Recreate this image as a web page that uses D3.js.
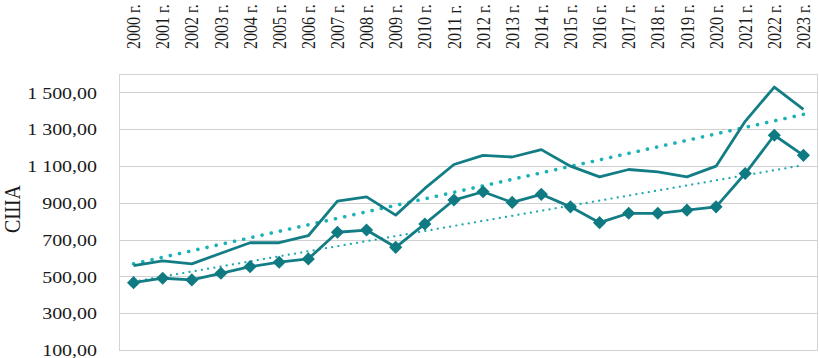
<!DOCTYPE html>
<html>
<head>
<meta charset="utf-8">
<script src="https://cdn.jsdelivr.net/npm/d3@7"></script>
<style>
  html, body { margin: 0; padding: 0; background: #fff; }
  #chart { width: 819px; height: 358px; overflow: hidden; }
  text { font-family: "Liberation Serif", "Times New Roman", serif; fill: #1a1a1a; }
</style>
</head>
<body>
<div id="chart"></div>
<script>
// годы (категории)
const years = ["2000 г.","2001 г.","2002 г.","2003 г.","2004 г.","2005 г.","2006 г.","2007 г.",
  "2008 г.","2009 г.","2010 г.","2011 г.","2012 г.","2013 г.","2014 г.","2015 г.","2016 г.",
  "2017 г.","2018 г.","2019 г.","2020 г.","2021 г.","2022 г.","2023 г."];

// ряд 1 — линия без маркеров
const seriesLine = [558, 584, 568, 626, 683, 683, 721, 909, 932, 833, 978, 1108, 1158, 1149,
  1189, 1099, 1041, 1081, 1068, 1041, 1099, 1343, 1529, 1408];

// ряд 2 — линия с ромбами
const seriesDiamond = [466, 490, 481, 517, 553, 577, 595, 740, 752, 658, 785, 915, 960, 902,
  946, 878, 792, 843, 843, 860, 878, 1059, 1267, 1158];

const yTicks = [100, 300, 500, 700, 900, 1100, 1300, 1500];
const yTitle = "США";

function drawChart() {
  const W = 819, H = 358;
  const plot = { left: 119, right: 818, top: 74, bottom: 350 };
  const stretch = 1.14; // картинка немного растянута по горизонтали

  const svg = d3.select("#chart").append("svg")
    .attr("width", W).attr("height", H);

  const x = d3.scaleBand()
    .domain(years)
    .range([plot.left, plot.right]);

  const y = d3.scaleLinear()
    .domain([100, 1600])
    .range([plot.bottom, plot.top]);

  const cx = d => x(d) + x.bandwidth() / 2;

  // формат 1 500,00
  const fmt = v => {
    const s = v.toFixed(2).replace(".", ",");
    const [i, f] = s.split(",");
    return i.replace(/\B(?=(\d{3})+(?!\d))/g, " ") + "," + f;
  };

  // рамка области построения
  svg.append("rect")
    .attr("x", plot.left + 0.5).attr("y", plot.top + 0.5)
    .attr("width", plot.right - plot.left - 1)
    .attr("height", plot.bottom - plot.top)
    .attr("fill", "none")
    .attr("stroke", "#d4d4d4")
    .attr("stroke-width", 1);

  // сетка
  svg.append("g")
    .selectAll("line")
    .data(yTicks)
    .enter().append("line")
    .attr("x1", plot.left).attr("x2", plot.right)
    .attr("y1", d => Math.round(y(d)) + 0.5)
    .attr("y2", d => Math.round(y(d)) + 0.5)
    .attr("stroke", "#d0d0d0")
    .attr("stroke-width", 1.2);

  // ось Y: подписи
  svg.append("g")
    .selectAll("text")
    .data(yTicks)
    .enter().append("text")
    .attr("transform", d => `translate(97,${y(d)}) scale(${stretch},1)`)
    .attr("dy", "0.35em")
    .attr("text-anchor", "end")
    .style("font-size", "17.5px")
    .text(fmt);

  // заголовок оси Y
  svg.append("text")
    .attr("transform", `translate(12,209) scale(${stretch},1) rotate(-90)`)
    .attr("text-anchor", "middle")
    .attr("dy", "0.35em")
    .style("font-size", "20px")
    .text(yTitle);

  // подписи годов сверху
  svg.append("g")
    .selectAll("text")
    .data(years)
    .enter().append("text")
    .attr("transform", d => `translate(${cx(d)},49) scale(1.17,1) rotate(-90)`)
    .attr("dy", "0.35em")
    .attr("text-anchor", "start")
    .style("font-size", "16px")
    .text(d => d);

  // линии тренда (линейная регрессия, как в Excel)
  function trend(vals) {
    const n = vals.length;
    const xs = d3.range(n);
    const mx = d3.mean(xs), my = d3.mean(vals);
    let num = 0, den = 0;
    xs.forEach((xi, i) => { num += (xi - mx) * (vals[i] - my); den += (xi - mx) ** 2; });
    const b = num / den, a = my - b * mx;
    return [{ i: 0, v: a }, { i: n - 1, v: a + b * (n - 1) }];
  }
  const trendLine = d3.line()
    .x(d => cx(years[d.i]))
    .y(d => y(d.v));

  svg.append("path")
    .datum(trend(seriesLine))
    .attr("d", trendLine)
    .attr("fill", "none")
    .attr("stroke", "#19b3b6")
    .attr("stroke-width", 3.6)
    .attr("stroke-linecap", "round")
    .attr("stroke-dasharray", "0.1 9.3");

  svg.append("path")
    .datum(trend(seriesDiamond))
    .attr("d", trendLine)
    .attr("fill", "none")
    .attr("stroke", "#1fa9b0")
    .attr("stroke-width", 2.2)
    .attr("stroke-linecap", "round")
    .attr("stroke-dasharray", "0.1 6.2");

  const line = d3.line()
    .x((d, i) => cx(years[i]))
    .y(d => y(d));

  // ряд 1
  svg.append("path")
    .datum(seriesLine)
    .attr("d", line)
    .attr("fill", "none")
    .attr("stroke", "#137d85")
    .attr("stroke-width", 2.8)
    .attr("stroke-linejoin", "round");

  // ряд 2
  svg.append("path")
    .datum(seriesDiamond)
    .attr("d", line)
    .attr("fill", "none")
    .attr("stroke", "#137d85")
    .attr("stroke-width", 2.8)
    .attr("stroke-linejoin", "round");

  svg.append("g")
    .selectAll("path")
    .data(seriesDiamond)
    .enter().append("path")
    .attr("d", d3.symbol().type(d3.symbolDiamond2).size(110))
    .attr("transform", (d, i) => `translate(${cx(years[i])},${y(d)})`)
    .attr("fill", "#0f7a82");
}

drawChart();
</script>
</body>
</html>
